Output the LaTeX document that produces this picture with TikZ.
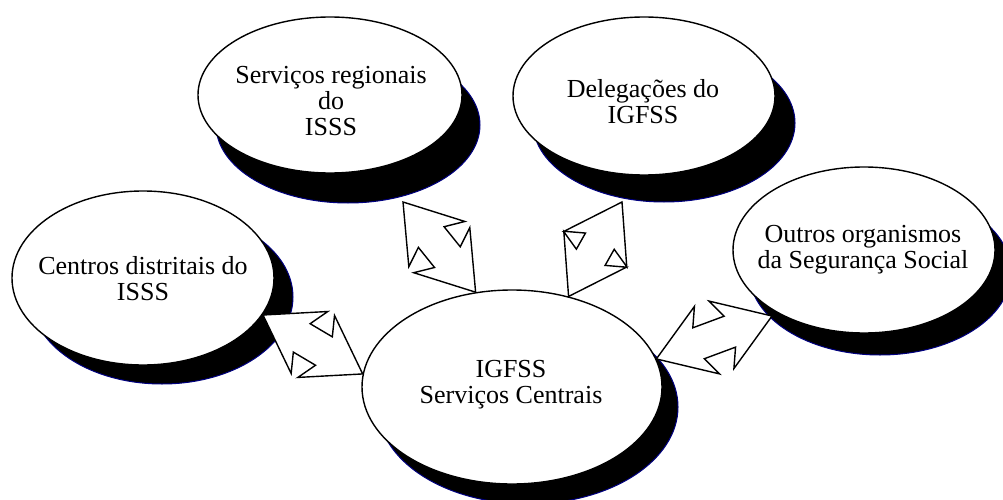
\documentclass[tikz,border=0pt]{standalone}
\usepackage{fontspec}
\setmainfont{Liberation Serif}
\usetikzlibrary{shapes.geometric,calc}
\definecolor{shadowblue}{RGB}{0,0,128}
\newcommand\linkarrow[2]{%
  \draw[blockarrow] (#1)
   -- ($(#1)!54pt!(#2)!36pt!90:(#2)$)
   -- ($(#1)!45pt!(#2)!16.5pt!90:(#2)$)
   -- ($(#2)!45pt!(#1)!16.5pt!-90:(#1)$)
   -- ($(#2)!54pt!(#1)!36pt!-90:(#1)$)
   -- (#2)
   -- ($(#2)!54pt!(#1)!36pt!90:(#1)$)
   -- ($(#2)!45pt!(#1)!16.5pt!90:(#1)$)
   -- ($(#1)!45pt!(#2)!16.5pt!-90:(#2)$)
   -- ($(#1)!54pt!(#2)!36pt!-90:(#2)$)
   -- cycle;}
\begin{document}
\begin{tikzpicture}[x=1pt,y=-1pt,
  ell/.style={ellipse, draw=black, line width=1.4pt, fill=white, inner sep=0pt},
  shad/.style={ellipse, draw=shadowblue, line width=1pt, fill=black, inner sep=0pt},
  lbl/.style={align=center, font=\fontsize{26}{26}\selectfont, inner sep=0pt},
  blockarrow/.style={draw=black, line width=1.4pt, fill=white, line join=miter}
]
\useasboundingbox (0,0) rectangle (1003,500);
% shadows
\node[shad, minimum width=264pt, minimum height=156pt] (s1) at (348,125) {};
\node[shad, minimum width=262pt, minimum height=158pt] (s2) at (664,123) {};
\node[shad, minimum width=262pt, minimum height=174pt] (s3) at (162,297) {};
\node[shad, minimum width=262pt, minimum height=166pt] (s4) at (880,272) {};
\node[shad, minimum width=300pt, minimum height=194pt] (s5) at (528,407) {};
% ellipses
\node[ell, minimum width=264pt, minimum height=156pt] (e1) at (330,95) {};
\node[ell, minimum width=262pt, minimum height=158pt] (e2) at (644,96) {};
\node[ell, minimum width=262pt, minimum height=174pt] (e3) at (143,278) {};
\node[ell, minimum width=262pt, minimum height=166pt] (e4) at (864,250) {};
\node[ell, minimum width=300pt, minimum height=194pt] (e5) at (512,387) {};
% arrow ends
\coordinate (a1) at (403,202);
\coordinate (a2) at (622,202);
\coordinate (a3) at (263,315);
\coordinate (a4) at (772,316);
\linkarrow{a1}{e5.111.5}
\linkarrow{a2}{e5.58}
\linkarrow{a3}{e5.175.4}
\linkarrow{e5.11}{a4}
% labels
\node[lbl] (t1) at (331,101) {Serviços regionais\\do\\ISSS};
\node[lbl] (t2) at (643,102) {Delegações do\\IGFSS};
\node[lbl] (t3) at (143,279) {Centros distritais do\\ISSS};
\node[lbl] (t4) at (863,250) {Outros organismos\\da Segurança Social};
\node[lbl] (t5) at (511,385) {IGFSS\\Serviços Centrais};
\end{tikzpicture}
\end{document}
